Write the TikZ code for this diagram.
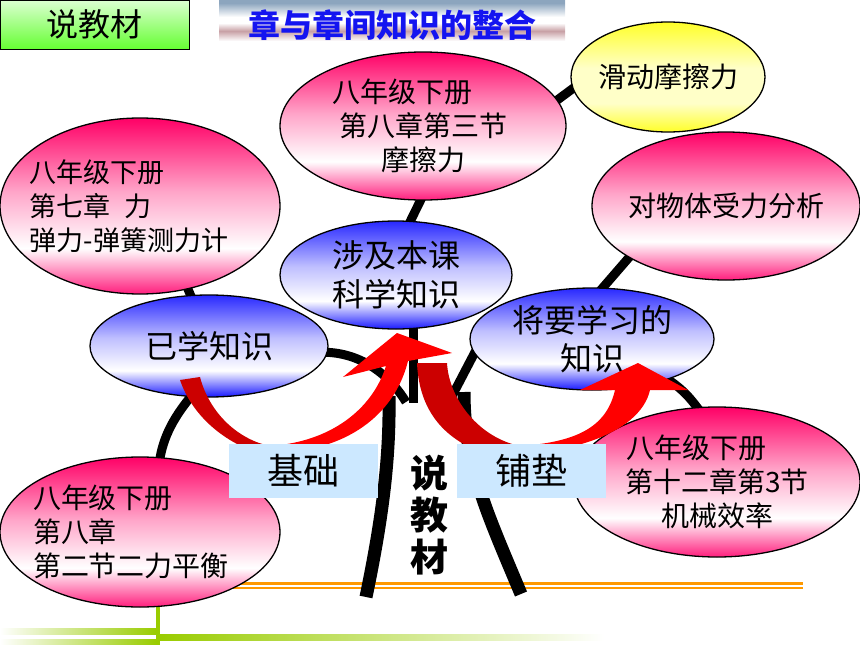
\documentclass[tikz,border=0pt]{standalone}
\usepackage{fontspec}
\setmainfont{Noto Sans CJK SC}
\usetikzlibrary{shapes.geometric,backgrounds}

\definecolor{pinktop}{RGB}{255,0,102}
\definecolor{pinkbot}{RGB}{255,30,125}
\colorlet{pinkmid}{pinktop!35!white}
\definecolor{bluetop}{RGB}{40,40,255}
\definecolor{bluebot}{RGB}{25,25,255}
\colorlet{bluemid}{bluetop!30!white}
\definecolor{yellowtop}{RGB}{255,255,40}
\definecolor{yellowmid}{RGB}{255,255,200}
\definecolor{tagblue}{RGB}{204,232,255}
\definecolor{arrowred}{RGB}{255,0,0}
\definecolor{arrowdark}{RGB}{204,0,0}
\definecolor{lineorange}{RGB}{255,153,0}
\definecolor{barGreen}{RGB}{153,204,0}
\definecolor{boxgreen}{RGB}{102,255,51}
\definecolor{boxlight}{RGB}{220,255,210}
\definecolor{titleblue}{RGB}{20,20,240}
\definecolor{bannertop}{RGB}{140,165,190}
\definecolor{bannermid}{RGB}{200,160,165}

\pgfdeclareverticalshading{pinkshade}{100bp}{color(0bp)=(pinkbot); color(25bp)=(pinkbot); color(38bp)=(white); color(54bp)=(pinkmid); color(75bp)=(pinktop); color(100bp)=(pinktop)}
\pgfdeclareverticalshading{blueshade}{100bp}{color(0bp)=(bluebot); color(25bp)=(bluebot); color(38bp)=(white); color(54bp)=(bluemid); color(75bp)=(bluetop); color(100bp)=(bluetop)}
\pgfdeclareverticalshading{yellowshade}{100bp}{color(0bp)=(yellowtop); color(25bp)=(yellowtop); color(38bp)=(yellowmid); color(54bp)=(yellowmid); color(75bp)=(yellowtop); color(100bp)=(yellowtop)}
\pgfdeclareverticalshading{bannershade}{100bp}{color(0bp)=(white); color(34bp)=(white); color(44bp)=(bannermid); color(52bp)=(white); color(58bp)=(white); color(72bp)=(bannertop); color(100bp)=(bannertop)}

\begin{document}
\begin{tikzpicture}[x=1pt,y=-1pt,
  ball/.style={ellipse, draw=black, line width=1.3pt, inner sep=-20pt, align=center},
  pinkball/.style={ball, shade, shading=pinkshade, font=\fontsize{28}{34}\selectfont},
  blueball/.style={ball, shade, shading=blueshade, font=\fontsize{32}{39}\selectfont},
  limb/.style={line width=9pt, shorten <=-5pt, shorten >=-5pt},
  trunk/.style={line width=13pt},
  tagbox/.style={fill=tagblue, minimum width=149pt, minimum height=54pt, inner sep=0pt, font=\fontsize{36}{40}\selectfont}
]
\useasboundingbox (0,0) rectangle (860,645);

% The heading
\node[draw=black, line width=0.8pt, top color=boxlight, bottom color=boxgreen, minimum width=189pt, minimum height=49pt, font=\fontsize{32}{36}\selectfont] (corner) at (94.5,24.5) {说教材};
\node[shade, shading=bannershade, minimum width=346pt, minimum height=50pt, text=titleblue, font=\bfseries\fontsize{32}{36}\selectfont] (banner) at (392,25) {章与章间知识的整合};

% The ellipses
\node[pinkball, minimum width=286pt, minimum height=148pt] (fric) at (423,126) {八年级下册\hspace*{1.5em}\\第八章第三节\\摩擦力};
\node[ball, shade, shading=yellowshade, minimum width=194pt, minimum height=110pt, font=\fontsize{28}{34}\selectfont] (slide) at (668,77) {滑动摩擦力};
\node[pinkball, minimum width=268pt, minimum height=148pt] (analysis) at (726,206) {对物体受力分析};
\node[pinkball, align=left, minimum width=280pt, minimum height=176pt, font=\fontsize{27}{34}\selectfont] (force) at (140,206) {八年级下册\\第七章\hspace{0.5em}力\\弹力-弹簧测力计\hspace*{22pt}};
\node[blueball, minimum width=232pt, minimum height=108pt] (sci) at (396,275) {涉及本课\\科学知识};
\node[blueball, minimum width=238pt, minimum height=102pt] (known) at (209,346) {已学知识};
\node[blueball, minimum width=244pt, minimum height=102pt, font=\fontsize{32}{38}\selectfont] (learn) at (592,339) {将要学习的\\知识};
\node[pinkball, align=left, minimum width=280pt, minimum height=150pt] (balance) at (140,532) {八年级下册\\第八章\\第二节二力平衡\hspace*{18pt}};
\node[pinkball, minimum width=286pt, minimum height=150pt] (mech) at (717,482) {八年级下册\hspace*{1.5em}\\第十二章第3节\\机械效率};

% The tree
\begin{pgfonlayer}{background}
\draw[lineorange, line width=2.5pt] (80,583.5) -- (803,583.5);
\draw[lineorange, line width=2pt] (80,588) -- (803,588);
\draw[barGreen, line width=4pt] (158,600) -- (158,645);
\shade[left color=white, right color=barGreen] (0,628) rectangle (156,634);
\shade[left color=white, right color=barGreen] (0,639) rectangle (156,645);
\shade[left color=barGreen, right color=white] (160,634) rectangle (604,640);

\draw[trunk] (366,597) .. controls (382,520) and (390,460) .. (389,396);
\draw[trunk] (521,594) .. controls (488,515) and (464,465) .. (464,392);
\draw[limb, shorten >=0pt] (known.-3) .. controls +(35,0) and +(-15,-25) .. (406,402);
\draw[limb, shorten >=0pt] (sci.-72) -- ++(0,74);
\draw[limb, shorten >=0pt] (learn.187) -- (451,398);
\draw[limb] (fric.268) -- (sci.75);
\draw[limb] (fric.11) -- (slide.187);
\draw[limb] (force.-60) -- (known.110);
\draw[limb] (known.250) .. controls +(-16,19) and +(3,-21) .. (balance.75);
\draw[limb] (analysis.208) -- (learn.78);
\draw[limb] (learn.-28) to[bend left=10] (mech.105);
\end{pgfonlayer}

% The arrows
\fill[arrowdark] (180,380) .. controls (192,415) and (222,440) .. (255,452) -- (275,452) -- (270,446) .. controls (240,440) and (210,415) .. (200,377) -- cycle;
\fill[arrowred] (255,452) .. controls (330,458) and (392,425) .. (408,361) -- (452,353) -- (397,333) -- (343,377) -- (386,366) .. controls (372,410) and (330,442) .. (270,446) -- cycle;
\fill[arrowdark] (417,363) .. controls (419,405) and (438,435) .. (480,452) -- (520,452) -- (520,446) .. controls (480,438) and (449,400) .. (447,363) -- cycle;
\fill[arrowred] (480,452) .. controls (560,460) and (640,435) .. (650,390) -- (688,390) -- (638,363) -- (580,390) -- (615,390) .. controls (607,425) and (580,442) .. (520,446) -- cycle;

% The labels
\node[tagbox] (base) at (303.5,471) {基础};
\node[tagbox] (pave) at (531.5,471) {铺垫};
\node[align=center, inner sep=0pt, font=\bfseries\fontsize{38}{42}\selectfont] (book) at (429,515) {说\\教\\材};
\end{tikzpicture}
\end{document}
